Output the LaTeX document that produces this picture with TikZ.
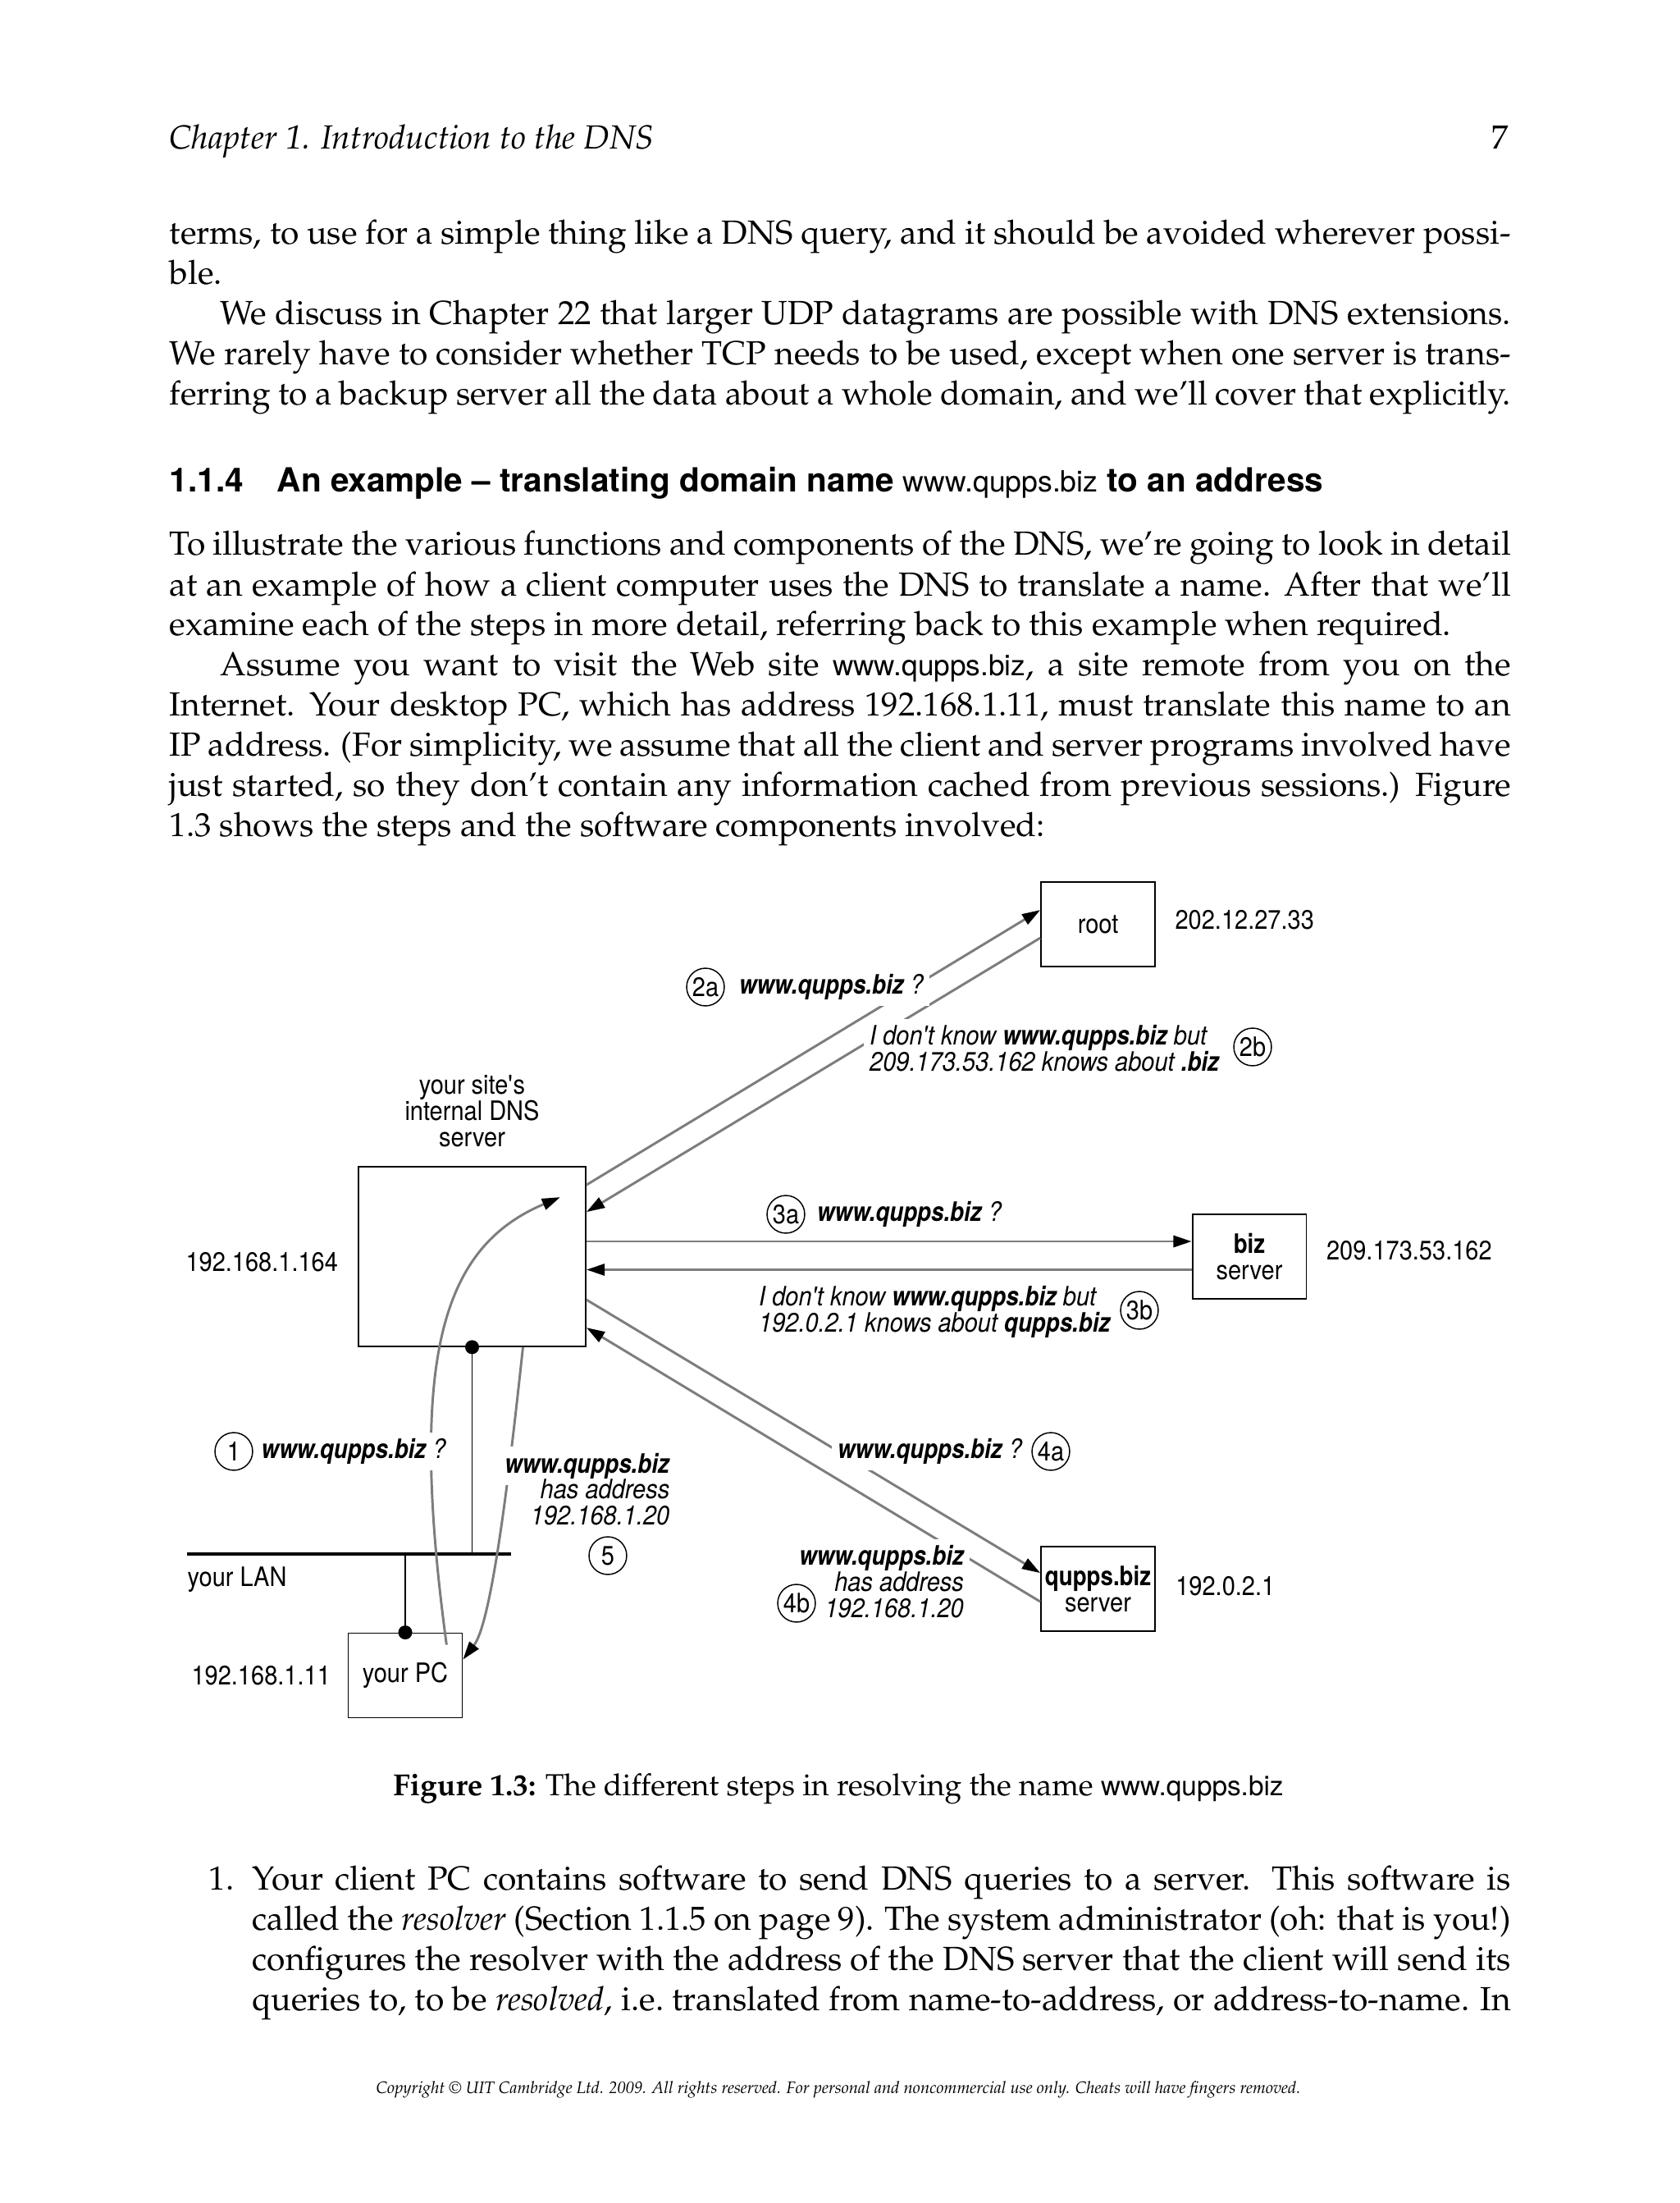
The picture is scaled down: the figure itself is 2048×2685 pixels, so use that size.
\documentclass[tikz,border=0pt]{standalone}
\usepackage[T1,TU]{fontenc}
\usepackage{fontspec}
\usetikzlibrary{arrows.meta, positioning, calc}
\newfontfamily\helv{TeX Gyre Heros}
\newfontfamily\diafont{TeX Gyre Heros}[FakeStretch=0.89]
\newfontfamily\diab{TeX Gyre Heros}[FakeStretch=0.85]
\newcommand{\pal}{\fontencoding{T1}\fontfamily{ppl}\selectfont}
\newcommand{\bodyfont}{\pal\fontsize{11}{13.23}\selectfont\tolerance=9999\hyphenpenalty=10000\relax}
\newcommand{\dia}{\diafont\fontsize{8.8}{8.64}\selectfont}
\newcommand{\site}{{\helv\fontsize{9.5}{11}\selectfont www.qupps.biz}}
\newcommand{\qb}{{\diab\bfseries\itshape www.qupps.biz}}
\newcommand{\bd}[1]{{\diab\bfseries #1}}
\definecolor{ArrowGray}{RGB}{125,125,125}
\tikzset{
  srv/.style={draw, line width=0.5pt, minimum width=37.5pt, minimum height=27.8pt, inner sep=0pt, align=center, font=\dia},
  addr/.style={inner sep=0pt, font=\dia},
  stepnum/.style={circle, draw, line width=0.4pt, minimum size=12.4pt, inner sep=0pt, fill=white, font=\dia},
  msg/.style={fill=white, inner sep=2pt, font=\dia\itshape},
  flow/.style={ArrowGray, line width=0.8pt, -{Triangle[black, length=6pt, width=3.8pt]}},
  wire/.style={line width=0.5pt},
  body/.style={inner sep=0pt, text width=441.5pt, align=justify, font=\bodyfont},
}
\begin{document}
\begin{tikzpicture}[x=0.27pt, y=-0.27pt]
\fill[white] (0,0) rectangle (2048,2685);
\useasboundingbox (0,0) rectangle (2048,2685);
\node[inner sep=0pt, anchor=base west, font={\bodyfont\itshape}] (head) at (206,182) {Chapter 1. Introduction to the DNS};
\node[inner sep=0pt, anchor=base east, font=\bodyfont] (pageno) at (1840,182) {7};
\node[body, anchor=base west] (parA) at (206,298) {terms, to use for a simple thing like a DNS query, and it should be avoided wherever possi-\linebreak ble.\par
\hspace*{16.7pt}We discuss in Chapter 22 that larger UDP datagrams are possible with DNS extensions.\linebreak We rarely have to consider whether TCP needs to be used, except when one server is trans-\linebreak ferring to a backup server all the data about a whole domain, and we'll cover that explicitly.\parfillskip=0pt\par};
\node[inner sep=0pt, anchor=base west, font={\helv\bfseries\fontsize{10.95}{13}\selectfont}] (secnum) at (206,600) {1.1.4};
\node[inner sep=0pt, anchor=base west, font={\helv\bfseries\fontsize{10.95}{13}\selectfont}] (sectitle) at (337,600) {An example – translating domain name {\mdseries\fontsize{9.6}{11}\selectfont www.qupps.biz} to an address};
\node[body, anchor=base west] (parC) at (206,677) {To illustrate the various functions and components of the DNS, we're going to look in detail\linebreak at an example of how a client computer uses the DNS to translate a name. After that we'll\linebreak examine each of the steps in more detail, referring back to this example when required.\par
\hspace*{16.7pt}Assume you want to visit the Web site \site, a site remote from you on the\linebreak Internet. Your desktop PC, which has address 192.168.1.11, must translate this name to an\linebreak IP address. (For simplicity, we assume that all the client and server programs involved have\linebreak just started, so they don't contain any information cached from previous sessions.) Figure\linebreak 1.3 shows the steps and the software components involved:};

\node[srv, minimum width=74.8pt, minimum height=59.1pt] (dns) at (575.5,1531.5) {};
\node[srv] (root) at (1338.5,1126.5) {root};
\node[srv] (biz) at (1523,1531.5) {\bd{biz}\\server};
\node[srv] (qupps) at (1338.5,1936.5) {\bd{qupps.biz}\\server};
\node[srv] (pc) at (494,2042) {your PC};
\node[addr, above=6.1pt of dns, align=center] (dnsname) {your site\textquotesingle s\\internal DNS\\server};
\node[addr, left=6.3pt of dns, yshift=-1.8pt] (dnsip) {192.168.1.164};
\node[addr, right=6.2pt of root, yshift=1.5pt] (rootip) {202.12.27.33};
\node[addr, right=6.2pt of biz, yshift=1.9pt] (bizip) {209.173.53.162};
\node[addr, right=6.4pt of qupps, yshift=0.8pt] (quppsip) {192.0.2.1};
\node[addr, left=5.4pt of pc] (pcip) {192.168.1.11};
\node[addr, anchor=west] (lan) at (228,1925) {your LAN};

\coordinate (lanL) at (228,1894);
\coordinate (lanR) at (623,1894);
\draw[line width=1.1pt] (lanL) -- (lanR);
\draw[wire] (dns.south) -- (dns.south |- lanL);
\draw[wire] (pc.north) -- (pc.north |- lanL);
\fill (dns.south) circle[radius=2.3pt];
\fill (pc.north) circle[radius=2.3pt];

\draw[flow] ($(dns.north east)+(0,23)$) -- ($(root.north west)+(0,35)$);
\draw[flow] ($(root.north west)+(0,69)$) -- ($(dns.north east)+(0,56)$);
\draw[flow] ($(dns.east)+(0,-18.5)$) -- ($(biz.west)+(0,-18.5)$);
\draw[flow] ($(biz.west)+(0,16)$) -- ($(dns.east)+(0,16)$);
\draw[flow] ($(dns.north east)+(0,163)$) -- ($(qupps.north west)+(0,33)$);
\draw[flow] ($(qupps.north west)+(0,68)$) -- ($(dns.north east)+(0,197)$);
\draw[flow] ($(pc.north east)+(-20,15)$) .. controls +(-48,-355) and +(-142,60) .. ($(dns.north east)+(-32,38)$);
\draw[flow] ($(dns.south)+(62,0)$) .. controls +(-17,158) and +(35,-45) .. ($(pc.north east)+(0,33)$);

\node[stepnum] (s2a) at (860,1203) {2a};
\node[msg, right=2.5pt of s2a] (m2a) {\qb\ ?};
\node[msg, anchor=west, align=left] (m2b) at (1052,1278) {I don\textquotesingle t know \qb{} but\\209.173.53.162 knows about \bd{.biz}};
\node[stepnum] (s2b) at (1527,1276) {2b};
\node[stepnum] (s3a) at (958,1480) {3a};
\node[msg, right=1.7pt of s3a] (m3a) {\qb\ ?};
\node[msg, anchor=west, align=left] (m3b) at (917,1599) {I don\textquotesingle t know \qb{} but\\192.0.2.1 knows about \bd{qupps.biz}};
\node[stepnum] (s3b) at (1389,1597) {3b};
\node[msg, anchor=west] (m4a) at (1013,1769) {\qb\ ?};
\node[stepnum] (s4a) at (1281,1769) {4a};
\node[msg, anchor=east, align=right] (m4b) at (1183,1928) {\qb\\has address\\192.168.1.20};
\node[stepnum] (s4b) at (971,1954) {4b};
\node[stepnum] (s1) at (285,1769) {1};
\node[msg, right=0.5pt of s1] (m1) {\qb\ ?};
\node[msg, anchor=base east] (m5) at (824,1795) {\qb};
\node[inner sep=0pt, anchor=east, align=right, font=\dia\itshape] (m5b) at (817,1831) {has address\\192.168.1.20};
\node[stepnum] (s5) at (741,1896) {5};

\node[inner sep=0pt, anchor=base, font={\pal\fontsize{10}{12}\selectfont}] (caption) at (1022,2188) {\textbf{Figure 1.3:} The different steps in resolving the name {\helv\fontsize{9}{11}\selectfont www.qupps.biz}};
\node[body, text width=414.2pt, anchor=base west] (item) at (307,2303) {\llap{1.\hspace{6pt}}Your client PC contains software to send DNS queries to a server. This software is\linebreak called the \textit{resolver} (Section 1.1.5 on page 9). The system administrator (oh: that is you!)\linebreak configures the resolver with the address of the DNS server that the client will send its\linebreak queries to, to be \textit{resolved}, i.e.\ translated from name-to-address, or address-to-name. In\parfillskip=0pt\par};
\node[inner sep=0pt, anchor=base, font={\pal\fontsize{5.5}{7}\selectfont\itshape}] (foot) at (1022,2551) {Copyright \textcopyright{} UIT Cambridge Ltd. 2009. All rights reserved. For personal and noncommercial use only. Cheats will have fingers removed.};
\end{tikzpicture}
\end{document}
